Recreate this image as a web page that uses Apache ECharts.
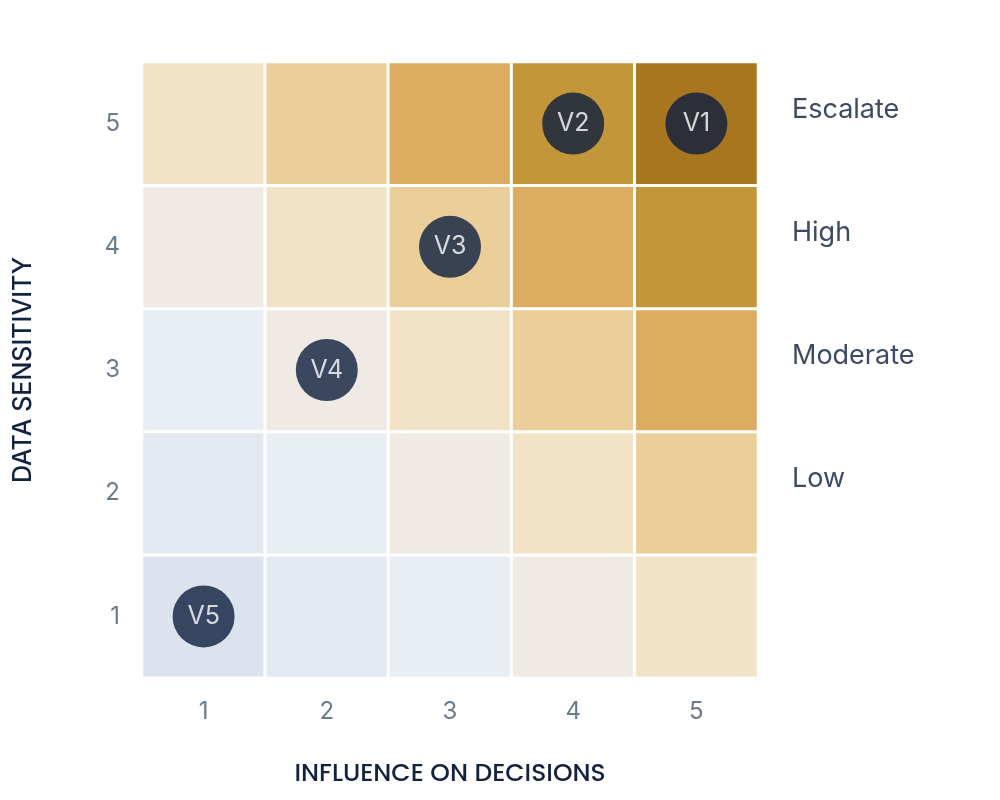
<!DOCTYPE html>
<html><head><meta charset="utf-8">
<script src="https://cdn.jsdelivr.net/npm/echarts@6/dist/echarts.min.js"></script>
<style>html,body{margin:0;background:#fff}#chart{width:1000px;height:800px}</style>
</head><body><div id="chart"></div>
<script>
const influence = ['1', '2', '3', '4', '5'];
const sensitivity = ['1', '2', '3', '4', '5'];
const tiers = ['', 'Low', 'Moderate', 'High', 'Escalate'];
// [x index, y index, score]
const cells = [];
const scores = [
  [2, 3, 4, 5, 6],
  [3, 4, 5, 6, 7],
  [4, 5, 6, 7, 8],
  [5, 6, 7, 8, 9],
  [6, 7, 8, 9, 10]
]; // scores[y][x]
scores.forEach((row, y) => row.forEach((s, x) => cells.push([x, y, s])));
const scoreColors = {2: '#dde3ee', 3: '#e3e8f1', 4: '#e9edf4', 5: '#efebe4', 6: '#f2e3c6',
  7: '#ebcf9a', 8: '#dcad60', 9: '#c4963a', 10: '#a8761f'};
const vendors = ['V1', 'V2', 'V3', 'V4', 'V5'];
const vendorX = [4, 3, 2, 1, 0];
const vendorY = [4, 4, 3, 2, 0];

const chart = echarts.init(document.getElementById('chart'));
chart.setOption({
  animation: false,
  grid: {left: 142, right: 242, top: 62, bottom: 122},
  xAxis: {
    type: 'category', data: influence,
    name: 'INFLUENCE ON DECISIONS', nameLocation: 'middle', nameGap: 84,
    nameTextStyle: {fontFamily: 'Poppins, Inter, sans-serif', fontSize: 25, color: '#13223f', fontWeight: 500},
    axisLine: {show: false}, axisTick: {show: false}, splitLine: {show: false},
    axisLabel: {fontFamily: 'Inter, sans-serif', fontSize: 24, color: '#6b7b8c', margin: 22}
  },
  yAxis: [{
    type: 'category', data: sensitivity,
    name: 'DATA SENSITIVITY', nameLocation: 'middle', nameGap: 106,
    nameTextStyle: {fontFamily: 'Inter, sans-serif', fontSize: 25, color: '#13223f', fontWeight: 500},
    axisLine: {show: false}, axisTick: {show: false}, splitLine: {show: false},
    axisLabel: {fontFamily: 'Inter, sans-serif', fontSize: 24, color: '#6b7b8c', margin: 22}
  }, {
    type: 'category', data: tiers, position: 'right',
    axisLine: {show: false}, axisTick: {show: false}, splitLine: {show: false},
    axisLabel: {fontFamily: 'Inter, sans-serif', fontSize: 27, color: '#3d4a63', margin: 34, align: 'left', verticalAlign: 'bottom', lineHeight: 28}
  }],
  series: [{
    type: 'heatmap',
    data: cells.map(c => ({value: c, itemStyle: {color: scoreColors[c[2]]}})),
    itemStyle: {borderColor: '#fff', borderWidth: 3},
    label: {show: false}
  }, {
    type: 'scatter',
    data: vendors.map((v, i) => ({value: [vendorX[i], vendorY[i]], name: v})),
    symbolSize: 62,
    itemStyle: {color: '#0d1e3d'},
    label: {show: true, position: 'inside', formatter: p => p.name, color: '#fff', fontSize: 25, fontFamily: 'Inter, sans-serif'}
  }]
});
</script></body></html>
